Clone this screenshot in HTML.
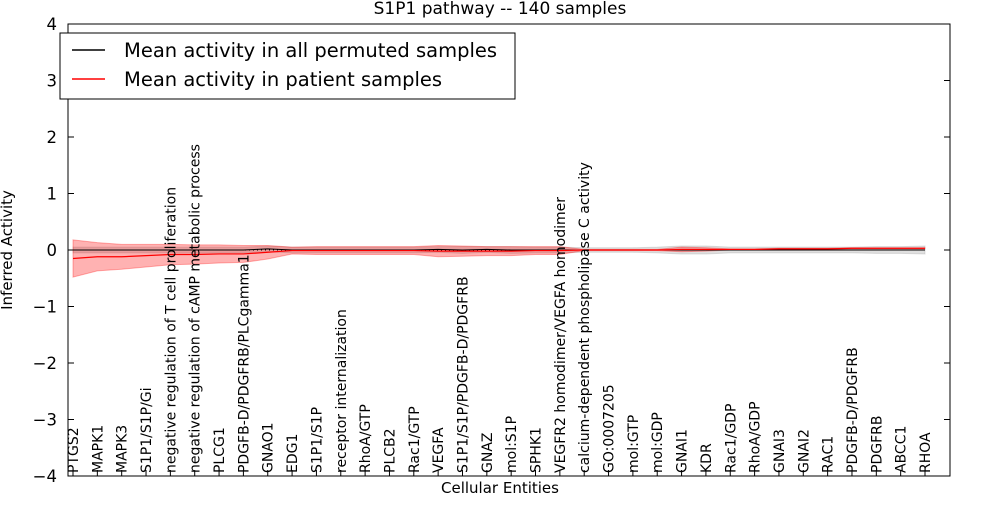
<!DOCTYPE html>
<html><head><meta charset="utf-8"><style>
body{margin:0;background:#fff;font-family:"Liberation Sans","DejaVu Sans",sans-serif;}
svg text{font-family:"DejaVu Sans","Liberation Sans",sans-serif;}
</style></head><body>
<svg id="chart" width="1000" height="500">
<text x="500" y="14" text-anchor="middle" font-size="17">S1P1 pathway -- 140 samples</text>
<g id="bands"></g><g id="lines"></g>
<rect x="68" y="24" width="882" height="452" fill="none" stroke="#000"/>
<g id="yaxis"></g><g id="xaxis"></g>
<text x="12" y="250" transform="rotate(-90 12 250)" text-anchor="middle" font-size="15">Inferred Activity</text>
<text x="500" y="493" text-anchor="middle" font-size="15">Cellular Entities</text>
<g>
<rect x="60" y="33" width="455" height="66" fill="#fff" stroke="#000"/>
<line x1="72" y1="50" x2="105" y2="50" stroke="#000" stroke-width="1.5"/>
<text x="124" y="57" font-size="19.5">Mean activity in all permuted samples</text>
<line x1="72" y1="79" x2="105" y2="79" stroke="red" stroke-width="1.5"/>
<text x="124" y="86" font-size="19.5">Mean activity in patient samples</text>
</g>
</svg>
<script>
const categories=["PTGS2","MAPK1","MAPK3","S1P1/S1P/Gi","negative regulation of T cell proliferation","negative regulation of cAMP metabolic process","PLCG1","PDGFB-D/PDGFRB/PLCgamma1","GNAO1","EDG1","S1P1/S1P","receptor internalization","RhoA/GTP","PLCB2","Rac1/GTP","VEGFA","S1P1/S1P/PDGFB-D/PDGFRB","GNAZ","mol:S1P","SPHK1","VEGFR2 homodimer/VEGFA homodimer","calcium-dependent phospholipase C activity","GO:0007205","mol:GTP","mol:GDP","GNAI1","KDR","Rac1/GDP","RhoA/GDP","GNAI3","GNAI2","RAC1","PDGFB-D/PDGFRB","PDGFRB","ABCC1","RHOA"];
const patientMean=[-0.15,-0.12,-0.12,-0.1,-0.08,-0.08,-0.07,-0.07,-0.04,-0.01,-0.01,-0.01,-0.01,-0.01,-0.01,-0.02,-0.02,-0.02,-0.02,-0.01,-0.01,0,0,0,0,0.01,0.01,0.01,0.01,0.02,0.02,0.02,0.03,0.03,0.03,0.03];
const patientSpread=[0.33,0.25,0.22,0.2,0.18,0.17,0.16,0.15,0.12,0.06,0.07,0.07,0.07,0.07,0.07,0.1,0.09,0.08,0.08,0.07,0.07,0.01,0.01,0.01,0.01,0.04,0.03,0.01,0.01,0.01,0.01,0.01,0.01,0.01,0.01,0.01];
const permMean=[0,0,0,0,0,0,0,0,0.02,0,0,0,0,0,0,0.01,0,0.01,0,0,0,0,0,0,0,0,0,0,0,0,0,0,0,0,0,0];
const permSpread=[0.05,0.05,0.05,0.05,0.05,0.05,0.05,0.05,0.05,0.05,0.05,0.05,0.05,0.05,0.05,0.05,0.06,0.05,0.06,0.05,0.05,0.04,0.04,0.04,0.05,0.07,0.07,0.05,0.05,0.05,0.05,0.05,0.05,0.06,0.06,0.07];
const yTicks=[-4,-3,-2,-1,0,1,2,3,4];
const NS="http://www.w3.org/2000/svg";
const X=i=>73+i*(925-73)/(categories.length-1);
const Y=v=>250-v*56.5;
function el(t,a,p){const e=document.createElementNS(NS,t);for(const k in a)e.setAttribute(k,a[k]);document.getElementById(p).appendChild(e);return e;}
function band(m,s,fill,op){let up=m.map((v,i)=>X(i)+","+Y(v+s[i]));let dn=m.map((v,i)=>X(i)+","+Y(v-s[i])).reverse();return el("polygon",{points:up.concat(dn).join(" "),fill:fill,"fill-opacity":op,stroke:fill,"stroke-opacity":0.3},"bands");}
const gb=band(permMean,permSpread,"#999",0.3);


const rb=band(patientMean,patientSpread,"#f00",0.3);


const z=el("line",{x1:X(0),x2:X(categories.length-1),y1:Y(0),y2:Y(0),stroke:"#000","stroke-dasharray":"1,3"},"lines");


const pl=el("polyline",{points:permMean.map((v,i)=>X(i)+","+Y(v)).join(" "),fill:"none",stroke:"#000","stroke-width":1},"lines");


const rl=el("polyline",{points:patientMean.map((v,i)=>X(i)+","+Y(v)).join(" "),fill:"none",stroke:"red","stroke-width":1.2},"lines");


yTicks.forEach(t=>{
 el("line",{x1:68,x2:74,y1:Y(t),y2:Y(t),stroke:"#000"},"yaxis");
 el("line",{x1:944,x2:950,y1:Y(t),y2:Y(t),stroke:"#000"},"yaxis");
 const tx=el("text",{x:57,y:Y(t)+6,"text-anchor":"end","font-size":16.5},"yaxis");
 tx.textContent=(t<0?"\u2212"+(-t):t);
 
 
});
categories.forEach((c,i)=>{
 const x=X(i);
 el("line",{x1:x,x2:x,y1:476,y2:470,stroke:"#000"},"xaxis");
 const tx=el("text",{x:x+5,y:473,transform:`rotate(-90 ${x+5} 473)`,"font-size":14},"xaxis");
 tx.textContent=c;
 
 
});
</script>
</body></html>
